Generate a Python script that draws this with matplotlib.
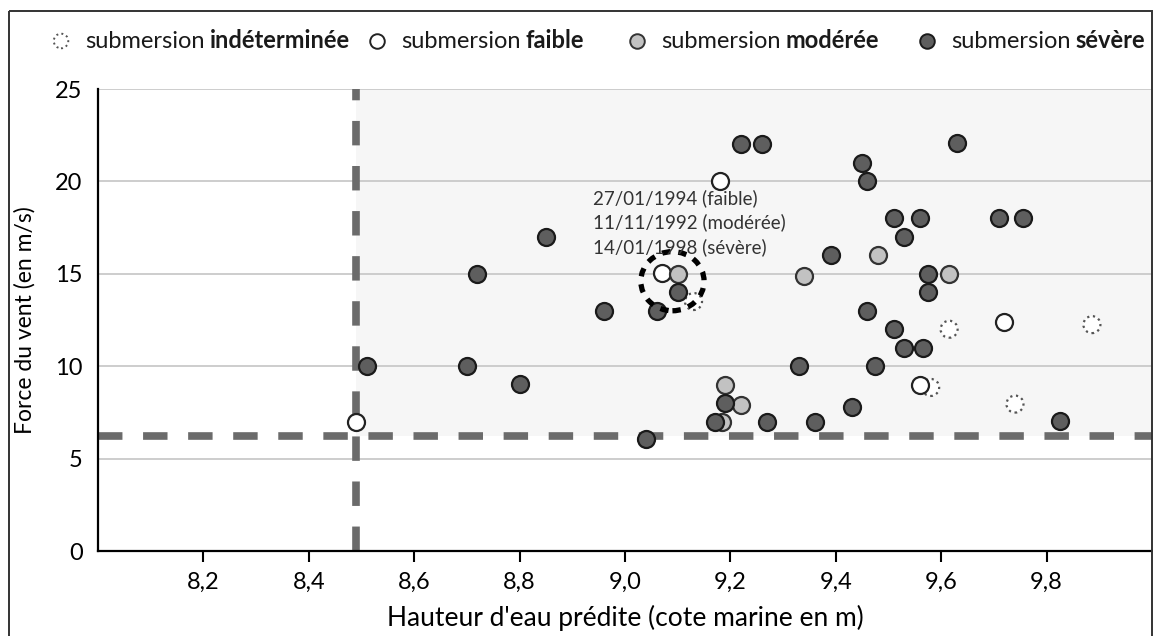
import matplotlib
matplotlib.use("Agg")
import matplotlib.pyplot as plt
from matplotlib.patches import Ellipse, Rectangle

plt.rcParams["font.family"] = ["Lato", "DejaVu Sans"]

# points (x = predicted water height, y = wind force)
indet_x = [9.13, 9.615, 9.886, 9.58, 9.74]
indet_y = [13.5, 12.0, 12.25, 8.85, 7.95]
faible_x = [8.49, 9.18, 9.07, 9.72, 9.56]
faible_y = [7.0, 20.0, 15.05, 12.4, 9.0]
moderee_x = [9.10, 9.34, 9.48, 9.615, 9.19, 9.22, 9.185]
moderee_y = [15.0, 14.9, 16.0, 15.0, 9.0, 7.9, 7.0]
severe_x = [8.51, 8.70, 8.72, 8.80, 8.85, 8.96, 9.04, 9.06, 9.10, 9.17,
            9.19, 9.22, 9.26, 9.27, 9.33, 9.36, 9.39, 9.43, 9.45, 9.46,
            9.46, 9.475, 9.51, 9.51, 9.53, 9.53, 9.56, 9.565, 9.575, 9.575,
            9.63, 9.71, 9.755, 9.825]
severe_y = [10, 10, 15, 9.05, 17, 13, 6.05, 13, 14, 7,
            8, 22, 22, 7, 10, 7, 16, 7.8, 21, 20,
            13, 10, 18, 12, 17, 11, 18, 11, 15, 14,
            22.1, 18, 18, 7.05]

height_threshold = 8.49
wind_threshold = 6.2
xticks = [8.2, 8.4, 8.6, 8.8, 9.0, 9.2, 9.4, 9.6, 9.8]
yticks = [0, 5, 10, 15, 20, 25]
annotation_lines = ["27/01/1994 (faible)", "11/11/1992 (modérée)", "14/01/1998 (sévère)"]
highlight_center = (9.09, 14.6)

categories = [
    ("indéterminée", indet_x, indet_y, "white", "#555555", ":"),
    ("faible", faible_x, faible_y, "white", "#222222", "-"),
    ("modérée", moderee_x, moderee_y, "#c2c2c2", "#333333", "-"),
    ("sévère", severe_x, severe_y, "#5e5e5e", "#1a1a1a", "-"),
]

W, H = 1153, 636
fig = plt.figure(figsize=(W / 100, H / 100), dpi=100)
ax = fig.add_axes([98 / W, 1 - 551 / H, 1054 / W, 462 / H])
ax.set_xlim(8.0, 10.0)
ax.set_ylim(0, 25)

# shaded zone above both thresholds
ax.add_patch(Rectangle((height_threshold, wind_threshold), 10.0 - height_threshold,
                       25 - wind_threshold, facecolor="#f6f6f6", edgecolor="none", zorder=0))
for y in yticks[1:]:
    ax.axhline(y, color="#c9c9c9", lw=1.3, zorder=1)

dash = (3.2, 2.7)
ax.axhline(wind_threshold, color="#6b6b6b", lw=5.5, ls=(0, dash), zorder=2)
ax.axvline(height_threshold, color="#6b6b6b", lw=5.5, ls=(0, dash), zorder=2)

for name, xs, ys, face, edge, ls in categories:
    ax.scatter(xs, ys, s=150, facecolor=face, edgecolor=edge, linewidths=1.6,
               linestyle=ls, zorder=3)

ax.add_patch(Ellipse(highlight_center, 0.12, 3.2, facecolor="none", edgecolor="black",
                     lw=3.8, ls=(0, (1.6, 1.5)), zorder=4))
for i, line in enumerate(annotation_lines):
    ax.text(8.94, 19.1 - i * 1.33, line, fontsize=13.5, color="#333333",
            va="center", ha="left", zorder=5)

for side in ["top", "right"]:
    ax.spines[side].set_visible(False)
for side in ["left", "bottom"]:
    ax.spines[side].set_linewidth(1.6)
ax.set_xticks(xticks)
ax.set_xticklabels([f"{v:.1f}".replace(".", ",") for v in xticks])
ax.set_yticks(yticks)
ax.tick_params(axis="x", length=8, width=1.5, pad=7, labelsize=17)
ax.tick_params(axis="y", length=0, pad=11, labelsize=17)
ax.set_xlabel("Hauteur d'eau prédite (cote marine en m)", fontsize=19, labelpad=9)
ax.set_ylabel("Force du vent (en m/s)", fontsize=16.5, labelpad=14)

# legend drawn on a pixel overlay
lax = fig.add_axes([0, 0, 1, 1], facecolor="none")
lax.set_xlim(0, W)
lax.set_ylim(H, 0)
lax.axis("off")
lax.add_patch(Rectangle((9, 11), 1143, 640, facecolor="none", edgecolor="#333333", lw=1.4))

legend_x = [61, 377, 637, 927]
legend_y = 41
fig.canvas.draw()
renderer = fig.canvas.get_renderer()
for (name, xs, ys, face, edge, ls), mx in zip(categories, legend_x):
    lax.scatter([mx], [legend_y], s=110, facecolor=face, edgecolor=edge,
                linewidths=1.4, linestyle=ls)
    t = lax.text(mx + 24, legend_y, "submersion", fontsize=17, va="center", ha="left",
                 color="#1a1a1a")
    bb = t.get_window_extent(renderer)
    lax.text(mx + 24 + bb.width + 5, legend_y, name, fontsize=17, fontweight="bold",
             va="center", ha="left", color="#1a1a1a")

fig.savefig("out.png", dpi=100)
